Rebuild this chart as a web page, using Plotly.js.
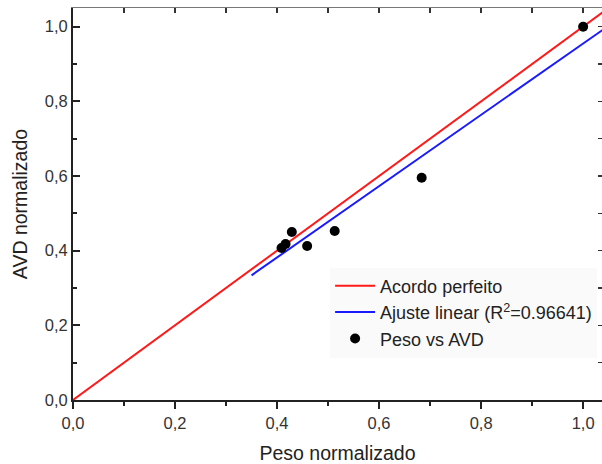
<!DOCTYPE html>
<html>
<head>
<meta charset="utf-8">
<script src="https://cdn.plot.ly/plotly-3.0.1.min.js"></script>
<style>
html,body{margin:0;padding:0;background:#fff;}
#chart{width:602px;height:464px;}
</style>
</head>
<body>
<div id="chart"></div>
<script>
// Data
const pesoX = [1.0, 0.6835, 0.513, 0.429, 0.459, 0.4167, 0.4088];
const avdY  = [1.0, 0.5955, 0.4527, 0.450, 0.4125, 0.418, 0.407];
const perfeitoX = [0, 1.04];
const perfeitoY = [0, 1.04];
const ajusteX = [0.35, 1.04];
const ajusteY = [0.334, 0.993];
const tickVals = [0, 0.2, 0.4, 0.6, 0.8, 1.0];
const tickText = ['0,0', '0,2', '0,4', '0,6', '0,8', '1,0'];

const FONT = 'Liberation Sans, Arial, sans-serif';

const traces = [
  {x: perfeitoX, y: perfeitoY, mode: 'lines', name: 'Acordo perfeito',
   line: {color: '#ff1a1a', width: 2}},
  {x: ajusteX, y: ajusteY, mode: 'lines', name: 'Ajuste linear (R<sup>2</sup>=0.96641)',
   line: {color: '#1a1aff', width: 2}},
  {x: pesoX, y: avdY, mode: 'markers', name: 'Peso vs AVD',
   marker: {color: '#000', size: 10}},
  // invisible helper for top/right axes
  {x: [0], y: [0], xaxis: 'x2', yaxis: 'y2', mode: 'markers', showlegend: false,
   hoverinfo: 'skip', marker: {opacity: 0}}
];

const layout = {
  width: 602, height: 464,
  margin: {l: 73, r: 0, t: 8, b: 64},
  paper_bgcolor: '#fff', plot_bgcolor: '#fff',
  font: {family: FONT, color: '#222'},
  showlegend: true,
  xaxis: {
    range: [0, 1.037], showgrid: false, zeroline: false,
    showline: true, linecolor: '#222', linewidth: 2,
    tickvals: tickVals, ticktext: tickText,
    ticks: 'outside', ticklen: 7, tickwidth: 2, tickcolor: '#222',
    minor: {dtick: 0.1, tick0: 0, ticks: 'outside', ticklen: 4, tickwidth: 2, tickcolor: '#222'},
    tickfont: {size: 16.5, color: '#333', family: FONT},
    title: {text: 'Peso normalizado', font: {size: 19.5, color: '#222', family: FONT}, standoff: 17}
  },
  yaxis: {
    range: [0, 1.05], showgrid: false, zeroline: false,
    showline: true, linecolor: '#222', linewidth: 2,
    tickvals: tickVals, ticktext: tickText,
    ticks: 'inside', ticklen: 7, tickwidth: 2, tickcolor: '#222',
    minor: {dtick: 0.1, tick0: 0, ticks: 'inside', ticklen: 4, tickwidth: 2, tickcolor: '#222'},
    tickfont: {size: 16.5, color: '#333', family: FONT},
    title: {text: 'AVD normalizado', font: {size: 19.5, color: '#222', family: FONT}, standoff: 12}
  },
  xaxis2: {
    overlaying: 'x', side: 'top', anchor: 'y2', range: [0, 1.037],
    showgrid: false, zeroline: false, showline: true, linecolor: '#777', linewidth: 1,
    showticklabels: false, ticks: 'inside', dtick: 0.1, tick0: 0, ticklen: 5, tickwidth: 1.5, tickcolor: '#333'
  },
  yaxis2: {
    overlaying: 'y', side: 'right', anchor: 'x2', range: [0, 1.05],
    showgrid: false, zeroline: false, showline: false,
    showticklabels: false, ticks: 'inside', dtick: 0.1, tick0: 0, ticklen: 4, tickwidth: 1.5, tickcolor: '#333'
  },
  legend: {
    x: 0.486, y: 0.338, xanchor: 'left', yanchor: 'top',
    bgcolor: 'rgba(246,246,246,0.6)', borderwidth: 0,
    font: {size: 18, color: '#222', family: FONT},
    itemwidth: 40,
    tracegroupgap: 0
  }
};

Plotly.newPlot('chart', traces, layout, {displayModeBar: false, staticPlot: true});
</script>
</body>
</html>
